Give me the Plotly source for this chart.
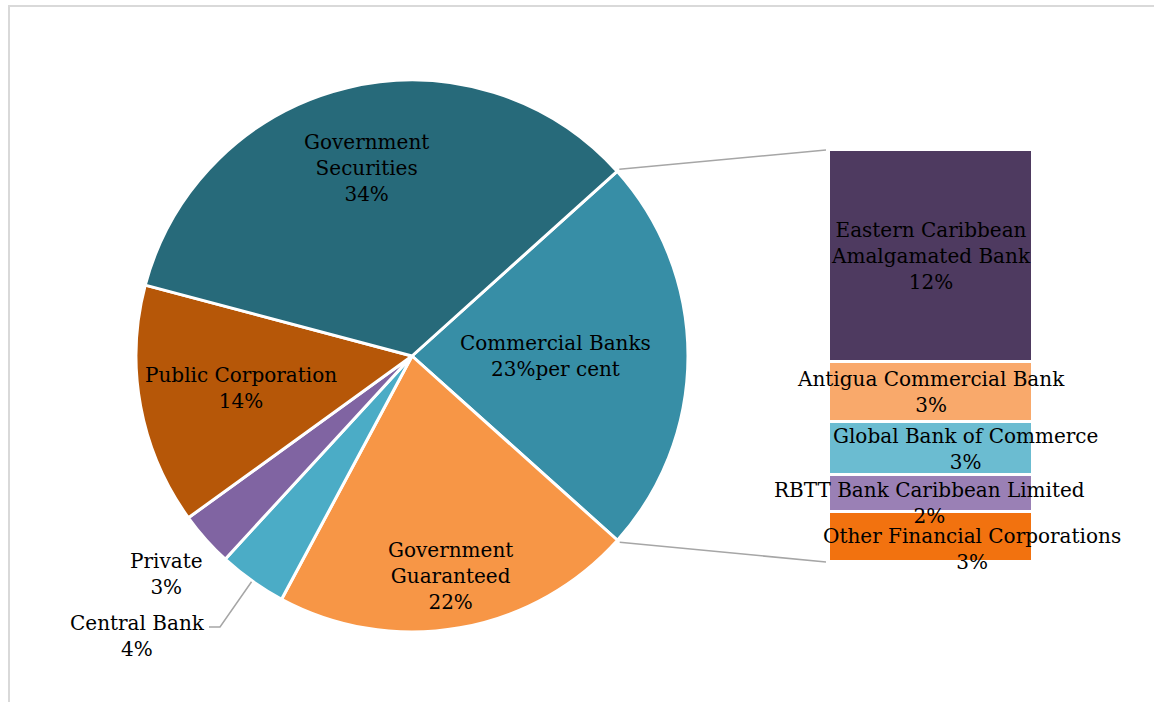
import math
import plotly.graph_objects as go

# ---------------- data ----------------
pie_labels = ["Commercial Banks", "Government Guaranteed", "Central Bank",
              "Private", "Public Corporation", "Government Securities"]
pie_values = [23.3, 21.2, 4.0, 3.2, 14.1, 34.2]
pie_text = ["Commercial Banks<br>23%per cent", "Government<br>Guaranteed<br>22%",
            "Central Bank<br>4%", "Private<br>3%", "Public Corporation<br>14%",
            "Government<br>Securities<br>34%"]

bar_labels = ["Eastern Caribbean Amalgamated Bank", "Antigua Commercial Bank",
              "Global Bank of Commerce", "RBTT Bank Caribbean Limited",
              "Other Financial Corporations"]
bar_values = [12.0, 3.4, 3.0, 2.1, 2.8]
bar_text = ["Eastern Caribbean<br>Amalgamated Bank<br>12%", "Antigua Commercial Bank<br>3%",
            "Global Bank of Commerce<br>3%", "RBTT Bank Caribbean Limited<br>2%",
            "Other Financial Corporations<br>3%"]

# ---------------- style ----------------
W, H = 1154, 702
FONT = "DejaVu Serif"
FS = 20
pie_colors = ["#378EA6", "#F79646", "#4BACC6", "#8064A2", "#B65708", "#276A7A"]
bar_colors = ["#4E3A60", "#F9A96B", "#6BBCD1", "#9A80B5", "#F2720F"]
CX, CY, R = 412, 356, 276          # pie centre / radius in px
ROT = 48                           # first slice start angle (clockwise from 12)
label_r = [0.52, 0.81, None, 1.19, 0.63, 0.70]
BX0, BX1, BY0, BY1 = 829, 1033, 150, 562   # bar box in px
bar_shift = [(0, 0), (0, 0), (34, 0), (-2, -9), (41, -12)]

def px(x):
    return x / W

def py(y):
    return 1 - y / H

fig = go.Figure()

fig.add_trace(go.Pie(
    labels=pie_labels, values=pie_values, sort=False, direction="clockwise",
    rotation=ROT, textinfo="none", hoverinfo="label+percent",
    marker=dict(colors=pie_colors, line=dict(color="white", width=3)),
    domain=dict(x=[px(CX - R), px(CX + R)], y=[py(CY + R), py(CY - R)]),
    showlegend=False,
))

# stacked bar (bottom segment first)
for lab, val, col in reversed(list(zip(bar_labels, bar_values, bar_colors))):
    fig.add_trace(go.Bar(
        x=["Commercial Banks"], y=[val], name=lab, marker=dict(color=col, line=dict(color="white", width=3)),
        width=1, showlegend=False, hoverinfo="name+y",
    ))

total = sum(pie_values)
annotations = []
ang = ROT
mids = []
bounds = []
for v in pie_values:
    a0 = ang
    a1 = ang + v / total * 360
    mids.append((a0 + a1) / 2)
    bounds.append((a0, a1))
    ang = a1

def pie_pt(a_deg, r):
    a = math.radians(a_deg)
    return CX + r * math.sin(a), CY - r * math.cos(a)

shapes = []
for i, t in enumerate(pie_text):
    if label_r[i] is not None:
        x, y = pie_pt(mids[i], label_r[i] * R)
        annotations.append(dict(x=px(x), y=py(y), xref="paper", yref="paper", text=t,
                                showarrow=False, xanchor="center", yanchor="middle",
                                font=dict(family=FONT, size=FS, color="black")))
# Central Bank label with leader line
ci = pie_labels.index("Central Bank")
sx, sy = pie_pt(mids[ci], R + 1)
shapes.append(dict(type="path", xref="paper", yref="paper",
                   path=f"M {px(sx)},{py(sy)} L {px(220)},{py(627)} L {px(209)},{py(627)}",
                   line=dict(color="#A6A6A6", width=1.5)))
annotations.append(dict(x=px(137), y=py(636), xref="paper", yref="paper", text=pie_text[ci],
                        showarrow=False, xanchor="center", yanchor="middle",
                        font=dict(family=FONT, size=FS, color="black")))

# bar labels
btotal = sum(bar_values)
top = btotal
for i, (t, v) in enumerate(zip(bar_text, bar_values)):
    mid = top - v / 2
    top -= v
    annotations.append(dict(x=0, y=mid, xref="x", yref="y", text=t, showarrow=False,
                            xanchor="center", yanchor="middle",
                            xshift=bar_shift[i][0], yshift=bar_shift[i][1],
                            font=dict(family=FONT, size=FS, color="black")))

# connector lines
cb = pie_labels.index("Commercial Banks")
tx, ty = pie_pt(bounds[cb][0], R + 3)
bx, by = pie_pt(bounds[cb][1], R + 3)
shapes.append(dict(type="line", xref="paper", yref="paper", x0=px(tx), y0=py(ty),
                   x1=px(BX0 - 3), y1=py(BY0), line=dict(color="#A6A6A6", width=1.5)))
shapes.append(dict(type="line", xref="paper", yref="paper", x0=px(bx), y0=py(by),
                   x1=px(BX0 - 3), y1=py(BY1), line=dict(color="#A6A6A6", width=1.5)))
# outer frame
shapes.append(dict(type="rect", xref="paper", yref="paper", x0=px(9), y0=py(6),
                   x1=1.02, y1=-0.02, line=dict(color="#D9D9D9", width=2)))

fig.update_layout(
    width=W, height=H, margin=dict(l=0, r=0, t=0, b=0),
    paper_bgcolor="white", plot_bgcolor="rgba(0,0,0,0)",
    barmode="stack", bargap=0,
    xaxis=dict(domain=[px(BX0), px(BX1)], visible=False, range=[-0.5, 0.5]),
    yaxis=dict(domain=[py(BY1), py(BY0)], visible=False, range=[0, btotal]),
    annotations=annotations, shapes=shapes,
    font=dict(family=FONT, size=FS, color="black"),
)

fig.write_html("out.html", config={"displayModeBar": False},
               post_script="document.body.style.margin='0';document.body.style.overflow='hidden';")
